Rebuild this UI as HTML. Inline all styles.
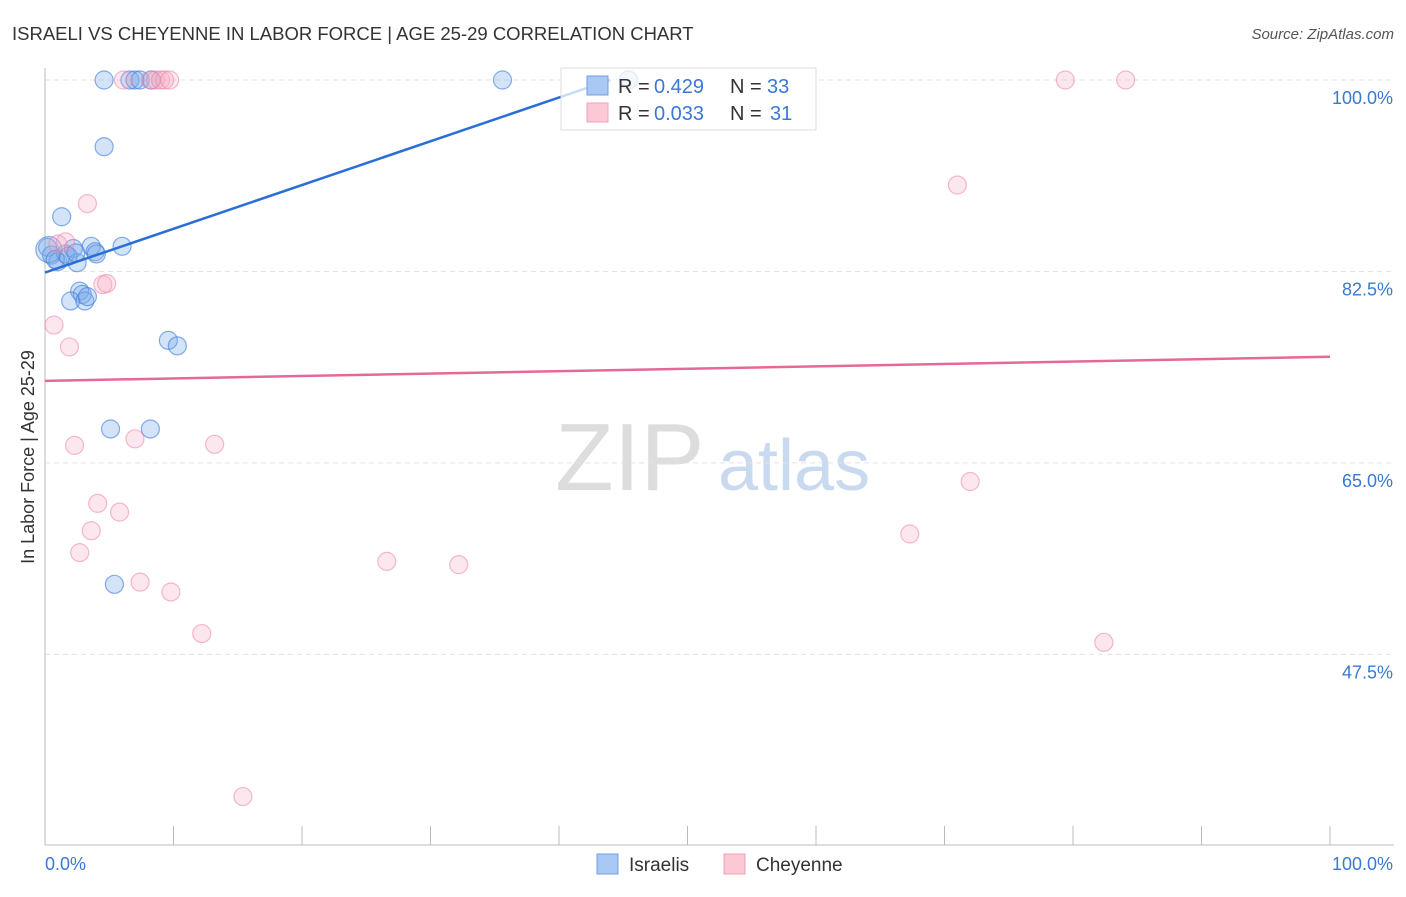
<!DOCTYPE html>
<html><head><meta charset="utf-8"><style>
body{margin:0;background:#fff;font-family:"Liberation Sans",sans-serif;}
svg text{font-family:"Liberation Sans",sans-serif;}
</style></head><body>
<svg id="chart" width="1406" height="892">
<text x="12" y="40" font-size="18.5" fill="#333">ISRAELI VS CHEYENNE IN LABOR FORCE | AGE 25-29 CORRELATION CHART</text>
<text x="1394" y="39" font-size="15" fill="#555" text-anchor="end" font-style="italic">Source: ZipAtlas.com</text>
<text transform="translate(34,457) rotate(-90)" font-size="18" fill="#333" text-anchor="middle">In Labor Force | Age 25-29</text>
<text x="555" y="490" font-size="96" fill="#ddd" font-family="Liberation Serif">ZIP</text>
<text x="718" y="490" font-size="72" fill="#c9daf0">atlas</text>
<g id="grid"></g><g id="pts"></g><g id="trends"></g>
<g>
<rect x="561" y="68" width="255" height="62" fill="rgba(255,255,255,0.75)" stroke="#ddd"/>
<rect x="587" y="76" width="21" height="19" fill="#a9c8f3" stroke="#6f9fe0"/>
<rect x="587" y="103" width="21" height="19" fill="#fbc8d6" stroke="#f0a0b8"/>
<text x="618" y="93" font-size="20" fill="#333">R =</text><text x="654" y="93" font-size="20" fill="#3a78d4">0.429</text>
<text x="730" y="93" font-size="20" fill="#333">N =</text><text x="767" y="93" font-size="20" fill="#3a78d4">33</text>
<text x="618" y="120" font-size="20" fill="#333">R =</text><text x="654" y="120" font-size="20" fill="#3a78d4">0.033</text>
<text x="730" y="120" font-size="20" fill="#333">N =</text><text x="770" y="120" font-size="20" fill="#3a78d4">31</text>
</g>
<g>
<rect x="597" y="854" width="21" height="20" fill="#a9c8f3" stroke="#6f9fe0"/>
<text x="629" y="871" font-size="19" fill="#333">Israelis</text>
<rect x="724" y="854" width="21" height="20" fill="#fbc8d6" stroke="#f0a0b8"/>
<text x="756" y="871" font-size="19" fill="#333">Cheyenne</text>
</g>
</svg>
<script>
const yTicks=[100,82.5,65,47.5];
const yTickLabels=["100.0%","82.5%","65.0%","47.5%"];
const blueX=[4.6,6.6,7.0,7.4,8.3,35.6,45.4,4.6,1.3,0.2,0.5,1.0,1.6,2.2,2.5,3.6,3.9,4.0,6.0,2.7,2.9,2.0,3.1,3.3,9.6,10.3,5.1,8.2,5.4,0.3,0.8,1.8,2.4];
const blueY=[100,100,100,100,100,100,100,93.9,87.5,84.7,84.0,83.4,84.1,84.6,83.3,84.8,84.3,84.1,84.8,80.7,80.4,79.8,79.8,80.2,76.2,75.7,68.1,68.1,53.9,84.5,83.6,83.9,84.2];
const pinkX=[6.1,8.2,8.6,9.0,9.3,9.7,79.4,84.1,3.3,1.0,1.6,4.5,4.8,0.7,1.9,71.0,2.3,7.0,13.2,72.0,4.1,5.8,3.6,2.7,26.6,32.2,7.4,9.8,67.3,12.2,82.4,15.4];
const pinkY=[100,100,100,100,100,100,100,100,88.7,85.0,85.2,81.3,81.4,77.6,75.6,90.4,66.6,67.2,66.7,63.3,61.3,60.5,58.8,56.8,56.0,55.7,54.1,53.2,58.5,49.4,48.6,34.5];
const blueTrend=[[0,82.4],[44.0,100]];
const pinkTrend=[[0,72.5],[100,74.7]];
const L=45,R=1330,T=80,PX=10.94;
const sx=v=>L+(R-L)*v/100, sy=v=>T+(100-v)*PX;
const NS="http://www.w3.org/2000/svg";
function mk(tag,attrs,parent){const e=document.createElementNS(NS,tag);for(const k in attrs)e.setAttribute(k,attrs[k]);document.getElementById(parent).appendChild(e);return e;}
yTicks.forEach((t,i)=>{
 const g=mk('line',{x1:L,x2:1394,y1:sy(t),y2:sy(t),stroke:'#e3e3e3','stroke-dasharray':'5,4'},'grid');
 
 
 const tx=mk('text',{x:1393,y:sy(t)+24,'font-size':18,fill:'#3a78d4','text-anchor':'end'},'grid');
 tx.textContent=yTickLabels[i];
 
 
});
const ax=mk('line',{x1:L,x2:L,y1:68,y2:845,stroke:'#bbb'},'grid');


const bx=mk('line',{x1:L,x2:1394,y1:845,y2:845,stroke:'#bbb'},'grid');


for(let i=0;i<=10;i++){const t=mk('line',{x1:sx(i*10),x2:sx(i*10),y1:826,y2:845,stroke:'#bbb'},'grid');
 
 }
const x0=mk('text',{x:45,y:870,'font-size':18,fill:'#3a78d4'},'grid');x0.textContent='0.0%';


const x1=mk('text',{x:1393,y:870,'font-size':18,fill:'#3a78d4','text-anchor':'end'},'grid');x1.textContent='100.0%';


blueX.forEach((x,i)=>{const c=mk('circle',{cx:sx(x),cy:sy(blueY[i]),r:i==29?13:9,fill:'rgba(120,170,235,0.33)',stroke:'rgba(70,130,220,0.65)','stroke-width':1.2},'pts');
 
 });
pinkX.forEach((x,i)=>{const c=mk('circle',{cx:sx(x),cy:sy(pinkY[i]),r:9,fill:'rgba(248,170,195,0.28)',stroke:'rgba(235,130,165,0.55)','stroke-width':1.2},'pts');
 
 });
const bl=mk('line',{x1:sx(blueTrend[0][0]),y1:sy(blueTrend[0][1]),x2:sx(blueTrend[1][0]),y2:sy(blueTrend[1][1]),stroke:'#2a6fd6','stroke-width':2.5},'trends');


const pl=mk('line',{x1:sx(pinkTrend[0][0]),y1:sy(pinkTrend[0][1]),x2:sx(pinkTrend[1][0]),y2:sy(pinkTrend[1][1]),stroke:'#e4699a','stroke-width':2.5},'trends');


</script>
</body></html>
